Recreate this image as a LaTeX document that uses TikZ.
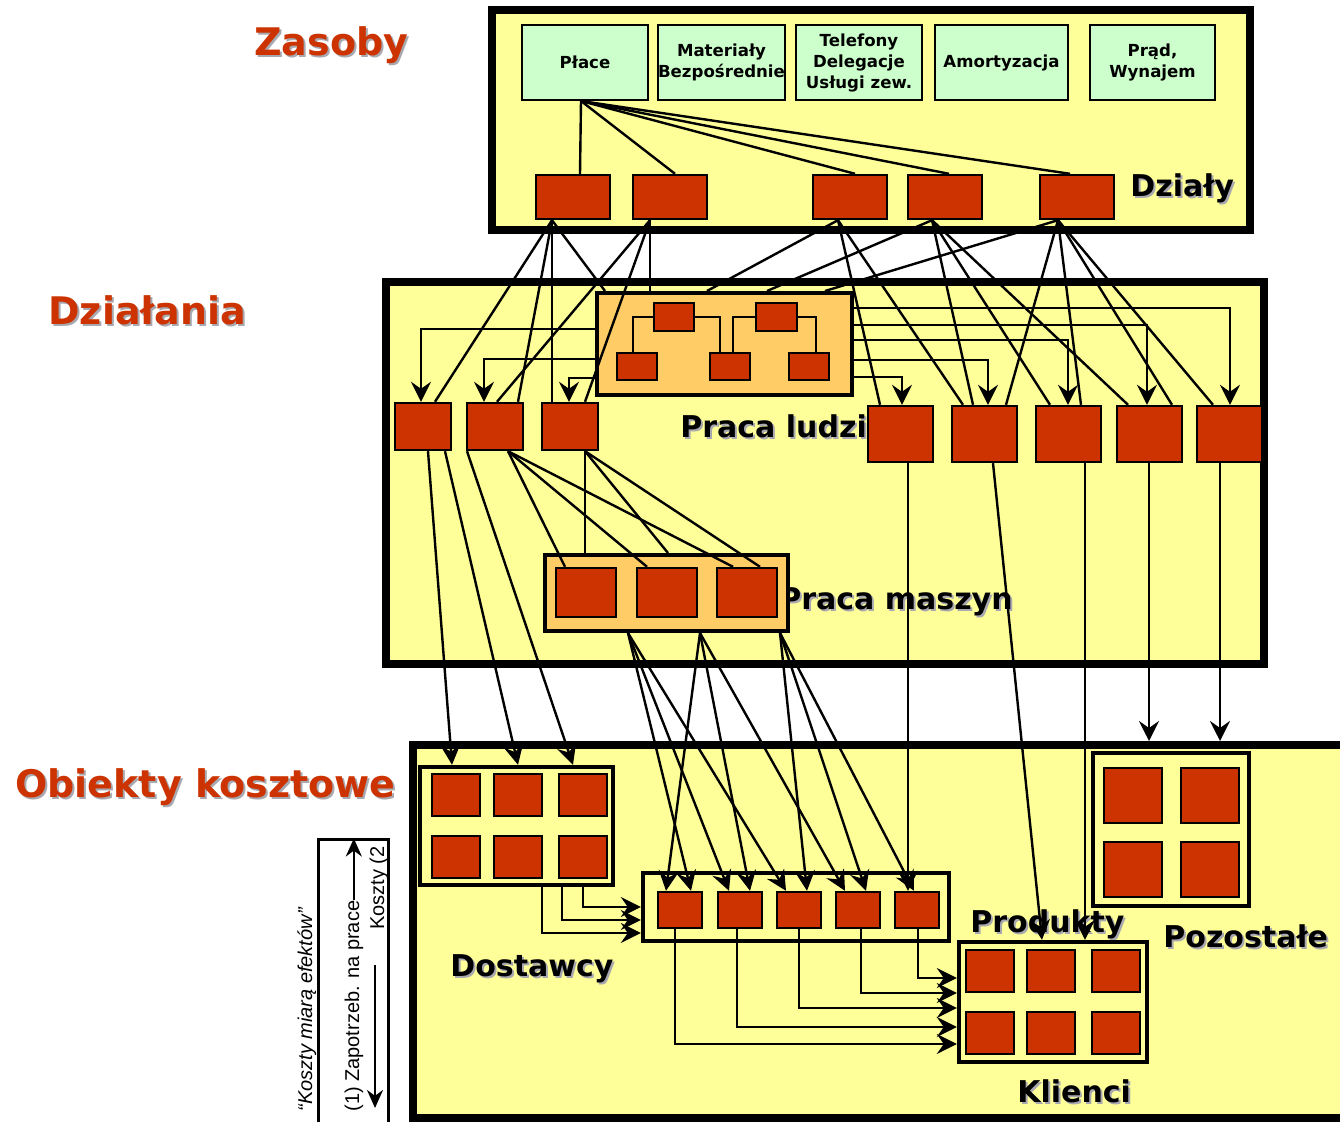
\documentclass[tikz,border=0pt]{standalone}
\usepackage{fontspec}
\setmainfont{DejaVu Sans}
\newfontfamily\legendfont{Liberation Sans}
\usetikzlibrary{arrows.meta,fit}

\definecolor{paleyellow}{HTML}{FFFF99}
\definecolor{palegreen}{HTML}{CCFFCC}
\definecolor{brick}{HTML}{CC3300}
\definecolor{amber}{HTML}{FFCC66}
\definecolor{shadegray}{HTML}{A8A8B0}

\newcommand\shadowed[2]{\makebox[0pt][l]{\kern1pt\raisebox{-1pt}{\textcolor{shadegray}{#2}}}\textcolor{#1}{#2}}

\tikzset{
  tier/.style={draw, line width=4pt, fill=paleyellow, inner sep=0pt},
  res/.style={draw, line width=1pt, fill=palegreen, inner sep=0pt, align=center,
    minimum height=37.5pt, minimum width=#1,
    font=\bfseries\fontsize{8.3}{10.5}\selectfont},
  cell/.style={draw, line width=1.2pt, fill=brick, inner sep=0pt},
  group/.style={draw, line width=2.2pt, fill=paleyellow, inner sep=0pt},
  work/.style={draw, line width=2pt, fill=amber, inner sep=0pt},
  title/.style={anchor=base west, inner sep=0pt, font=\bfseries\fontsize{19}{22}\selectfont},
  tag/.style={anchor=base west, inner sep=0pt, font=\bfseries\fontsize{15}{18}\selectfont},
  wire/.style={line width=1.2pt},
  feed/.style={wire, -{Stealth[length=10pt,width=10pt,inset=3.5pt]}},
  keytext/.style={rotate=90, anchor=base west, inner sep=0pt, font=\legendfont\fontsize{10}{12}\selectfont},
}

\begin{document}
\begin{tikzpicture}[x=0.5pt, y=-0.5pt, font=\bfseries]
\useasboundingbox (0,0) rectangle (1340,1122);

% the three levels
\node[tier, fit={(492,10) (1250,230)}] (zas) {};
\node[tier, fit={(386,282) (1264,664)}] (dzi) {};
\node[tier, fit={(413,745) (1360,1118)}] (obk) {};

\node[title] (tzas) at (254,56) {\shadowed{brick}{Zasoby}};
\node[title] (tdzi) at (48,325) {\shadowed{brick}{Działania}};
\node[title] (tobk) at (15,798) {\shadowed{brick}{Obiekty kosztowe}};

\node[tag] (tdep) at (1130,197) {\shadowed{black}{Działy}};
\node[tag] (tlud) at (680,438) {\shadowed{black}{Praca ludzi}};
\node[tag] (tmas) at (779,610) {\shadowed{black}{Praca maszyn}};
\node[tag] (tdos) at (450,977) {\shadowed{black}{Dostawcy}};
\node[tag] (tpro) at (970,933) {\shadowed{black}{Produkty}};
\node[tag] (tpoz) at (1163,948) {\shadowed{black}{Pozostałe}};
\node[tag] (tkli) at (1017,1102) {\shadowed{black}{Klienci}};

% resources
\node[res=63pt] (pl) at (585,62.5) {Płace};
\node[res=63.5pt] (mat) at (721.5,62.5) {Materiały\\Bezpośrednie};
\node[res=63pt] (tel) at (859,62.5) {Telefony\\Delegacje\\Usługi zew.};
\node[res=66.5pt] (amo) at (1001.5,62.5) {Amortyzacja};
\node[res=62.5pt] (prad) at (1152.5,62.5) {Prąd,\\Wynajem};

\foreach \n/\x in {1/536, 2/633, 3/813, 4/908, 5/1040}
  \node[cell, fit={(\x,175) (\x+74,219)}] (d\n) {};

% activities
\foreach \n/\x in {1/395, 2/467, 3/542}
  \node[cell, fit={(\x,403) (\x+56,450)}] (a\n) {};
\foreach \n/\x in {1/868, 2/952, 3/1036, 4/1117, 5/1197}
  \node[cell, fit={(\x,406) (\x+65,462)}] (r\n) {};

\node[work, fit={(597,293) (852,395)}] (plg) {};
\node[cell, fit={(654,303) (694,331)}] (t1) {};
\node[cell, fit={(756,303) (797,331)}] (t2) {};
\foreach \n/\x in {1/617, 2/710, 3/789}
  \node[cell, fit={(\x,353) (\x+40,380)}] (b\n) {};
\draw[line width=1pt] (t1.west) -| (b1.north -| 633,0);
\draw[line width=1pt] (t1.east) -| (b2.north -| 720,0);
\draw[line width=1pt] (t2.west) -| (b2.north -| 733,0);
\draw[line width=1pt] (t2.east) -| (b3.north -| 816,0);

\node[work, fit={(545,555) (788,631)}] (pmg) {};
\foreach \n/\x in {1/556, 2/637, 3/717}
  \node[cell, fit={(\x,568) (\x+60,617)}] (m\n) {};

% cost objects
\node[group, fit={(420,767) (613,885)}] (dost) {};
\node[group, fit={(643,873) (949,941)}] (prod) {};
\node[group, fit={(959,942) (1147,1062)}] (kli) {};
\node[group, fit={(1093,753) (1249,906)}] (poz) {};
\foreach \c/\x in {1/432, 2/494, 3/559}
  \foreach \r/\y in {1/774, 2/836}
    \node[cell, fit={(\x,\y) (\x+48,\y+42)}] (s\r\c) {};
\foreach \n/\x in {1/658, 2/718, 3/777, 4/836, 5/895}
  \node[cell, fit={(\x,892) (\x+44,928)}] (p\n) {};
\foreach \c/\x in {1/966, 2/1027, 3/1092}
  \foreach \r/\y in {1/950, 2/1012}
    \node[cell, fit={(\x,\y) (\x+48,\y+42)}] (k\r\c) {};
\foreach \c/\x in {1/1104, 2/1181}
  \foreach \r/\y in {1/768, 2/842}
    \node[cell, fit={(\x,\y) (\x+58,\y+55)}] (o\r\c) {};

% resources into departments
\foreach \n/\x in {1/580, 2/675, 3/855, 4/949, 5/1070}
  \draw[wire] (pl.south -| 581,0) -- (d\n.north -| \x,0);

% departments into activities
\foreach \s/\sx/\t/\tx in {1/552/a1/435, 1/552/a2/518, 1/552/a3/552, 1/552/plg/605,
    2/650/a2/497, 2/650/a3/585, 2/650/plg/650,
    3/838/plg/707, 3/838/r1/880, 3/838/r2/963,
    4/932/plg/767, 4/932/r2/973, 4/932/r3/1050, 4/932/r4/1128,
    5/1058/plg/825, 5/1058/r2/1006, 5/1058/r3/1081, 5/1058/r4/1172, 5/1058/r5/1213}
  \draw[wire] (d\s.south -| \sx,0) -- (\t.north -| \tx,0);

% people's work handed on
\foreach \y/\t/\tx in {329/a1/421, 359/a2/484, 378/a3/569}
  \draw[feed] (plg.west |- 0,\y) -| (\t.north -| \tx,0);
\foreach \y/\t/\tx in {308/r5/1230, 325/r4/1147, 340/r3/1068, 360/r2/988, 377/r1/902}
  \draw[feed] (plg.east |- 0,\y) -| (\t.north -| \tx,0);

% activities into machine work
\foreach \s/\sx/\t/\tx in {a2/508/m1/565, a2/508/m2/647, a2/508/m3/733,
    a3/585/pmg/585, a3/585/pmg/668, a3/585/m3/760}
  \draw[wire] (\s.south -| \sx,0) -- (\t.north -| \tx,0);

% down to the cost objects
\foreach \s/\sx/\tx in {a1/428/452, a1/445/518, a2/467/573}
  \draw[feed] (\s.south -| \sx,0) -- (dost.north -| \tx,0);
\foreach \sx/\t/\tx in {628/p1/691, 628/p2/729, 628/p3/786,
    700/p1/666, 700/p2/750, 700/p4/845,
    780/p3/807, 780/p4/866, 780/p5/914}
  \draw[feed] (pmg.south -| \sx,0) -- (\t.north -| \tx,0);
\draw[feed] (r1.south -| 908,0) -- (p5.north -| 908,0);
\draw[feed] (r2.south -| 993,0) -- (kli.north -| 1042,0);
\draw[feed] (r3.south -| 1085,0) -- (kli.north -| 1085,0);
\draw[feed] (r4.south -| 1149,0) -- (obk.north -| 1149,0);
\draw[feed] (r5.south -| 1220,0) -- (obk.north -| 1220,0);

\foreach \x/\y in {542/933, 562/920, 583/907}
  \draw[feed] (dost.south -| \x,0) |- (prod.west |- 0,\y);
\foreach \n/\x/\y in {1/675/1044, 2/737/1027, 3/799/1008, 4/861/993, 5/918/978}
  \draw[feed] (p\n.south -| \x,0) |- (kli.west |- 0,\y);

% key
\node[draw, line width=1.5pt, fill=white, inner sep=0pt, fit={(318,840) (388,1126)}] (key) {};
\node[keytext, font=\legendfont\itshape\fontsize{10}{12}\selectfont] (quote) at (312,1112) {“Koszty miarą efektów”};
\node[keytext] (need) at (359,1112) {(1) Zapotrzeb. na prace};
\begin{scope}
  \clip (318,842) rectangle (388,1126);
  \node[keytext] (cost) at (384,930) {Koszty (2};
\end{scope}
\coordinate (coststart) at (375,965);
\coordinate (costend) at (375,1108);
\draw[line width=1pt, -{Stealth[length=9pt,width=8pt]}] (need.east) -- (need.east |- key.north);
\draw[line width=1pt, -{Stealth[length=9pt,width=8pt]}] (coststart) -- (costend);
\end{tikzpicture}
\end{document}
